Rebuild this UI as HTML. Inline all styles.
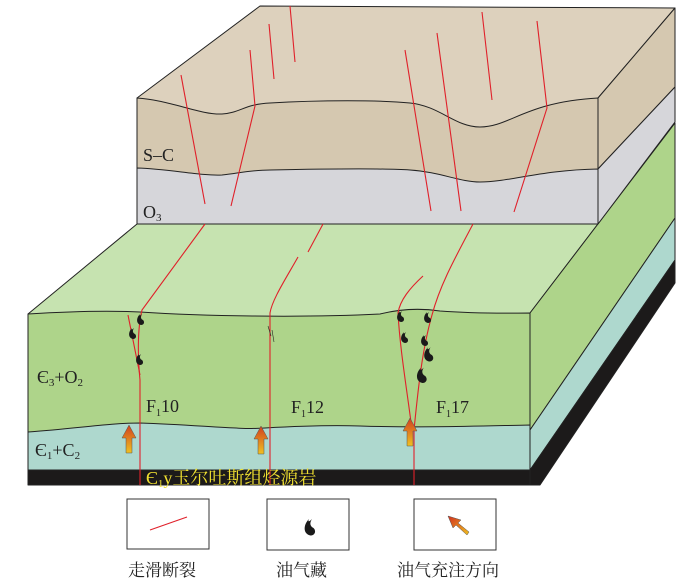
<!DOCTYPE html>
<html><head><meta charset="utf-8"><style>
html,body{margin:0;padding:0;background:#fff;}
svg{display:block;}
</style></head><body>
<svg width="700" height="584" viewBox="0 0 700 584" xmlns="http://www.w3.org/2000/svg">
<defs>
<linearGradient id="ag" x1="0" y1="1" x2="0" y2="0">
<stop offset="0" stop-color="#f0c020"/><stop offset="1" stop-color="#d04020"/></linearGradient>
<linearGradient id="ag2" x1="1" y1="1" x2="0" y2="0">
<stop offset="0" stop-color="#f0c020"/><stop offset="1" stop-color="#d03020"/></linearGradient>
<g id="oil"><path d="M0,-6 C-4,-2 -4,4 1,5 C4,5 5,2 3,0 C1,-1 0,-3 2,-6 C0,-4 -1,-4 0,-6 Z" fill="#1a1a1a"/></g>
</defs>
<g stroke="#222" stroke-width="1" stroke-linejoin="round">
<polygon points="28,314 137,224 598,224 530,313 530,330 28,330" fill="#c6e3b0"/>
<path d="M28,314 C60,312 100,310 140,312 C200,316 300,318 380,314 C400,309 420,308 440,311 C480,314 510,313 530,313 L530,430 L28,432 Z" fill="#aed48a"/>
<path d="M28,432 C80,428 110,423 140,423 C200,425 240,430 265,428 C300,426 330,425 360,426 C420,428 480,426 530,425 L530,470 L28,470 Z" fill="#aed8ce"/>
<rect x="28" y="470" width="502" height="15" fill="#1c1a1a"/>
<polygon points="530,313 675,123 675,218 530,430" fill="#aed48a"/>
<polygon points="530,430 675,218 675,260 530,470" fill="#aed8ce"/>
<polygon points="530,470 675,260 675,283 540,485 530,485" fill="#1c1a1a"/>
<polygon points="137,98 260,6 675,8 598,98 598,135 137,135" fill="#ddd1bd"/>
<path d="M137,98 C170,100 200,115 222,114 C240,113 245,104 270,103 C320,100 380,100 410,103 C440,106 455,127 480,127 C510,127 525,102 598,98 L598,195 L137,195 Z" fill="#d5c8b0"/>
<path d="M137,168 C170,169 200,176 222,175 C240,173 250,170 270,170 C320,169 380,168 410,170 C440,172 460,182 480,182 C510,182 540,170 598,169 L598,224 L137,224 Z" fill="#d6d6da"/>
<polygon points="598,98 675,8 675,87 598,169" fill="#d5c8b0"/>
<polygon points="598,169 675,87 675,122 598,224" fill="#d6d6da"/>
</g>
<g stroke="#e0202a" stroke-width="1.1" fill="none">
<line x1="290" y1="6" x2="295" y2="62"/>
<line x1="269" y1="24" x2="274" y2="79"/>
<line x1="181" y1="75" x2="205" y2="204"/>
<polyline points="250,50 255,106 231,206"/>
<line x1="405" y1="50" x2="431" y2="211"/>
<line x1="437" y1="33" x2="461" y2="211"/>
<line x1="482" y1="12" x2="492" y2="100"/>
<polyline points="537,21 547,108 514,212"/>
<path d="M205,224 L142,310 C137,330 138,360 140,380 L140,485"/>
<path d="M323,224 L308,252 M298,257 C285,280 272,300 270,313 L270,485"/>
<path d="M473,224 C455,258 440,285 432,315 C422,350 418,390 414,430 L414,485"/>
<path d="M423,276 C410,288 400,300 398,313 C400,350 407,390 412,430"/>
<path d="M128,315 L140,375"/>
<line x1="150" y1="530" x2="187" y2="517"/>
</g>
<g stroke="#222" stroke-width="0.6" fill="none"><path d="M268,326 l3,10 M272,330 l2,12"/></g>
<g>
<use href="#oil" transform="translate(140,320)"/>
<use href="#oil" transform="translate(132,334)"/>
<use href="#oil" transform="translate(139,360)"/>
<use href="#oil" transform="translate(400,317)"/>
<use href="#oil" transform="translate(404,338)"/>
<use href="#oil" transform="translate(427,318)"/>
<use href="#oil" transform="translate(424,341)"/>
<use href="#oil" transform="translate(428,355) scale(1.3)"/>
<use href="#oil" transform="translate(421,376) scale(1.4)"/>
<use href="#oil" transform="translate(309,528) scale(1.5)"/>
</g>
<g stroke="#555" stroke-width="0.5">
<path d="M126,453 L126,438 L122,438 L129,425 L136,438 L132,438 L132,453 Z" fill="url(#ag)"/>
<path d="M258,454 L258,439 L254,439 L261,426 L268,439 L264,439 L264,454 Z" fill="url(#ag)"/>
<path d="M407,446 L407,431 L403,431 L410,418 L417,431 L413,431 L413,446 Z" fill="url(#ag)"/>
<path d="M467,535 L456,525 L453,528 L448,516 L461,520 L458,523 L469,532 Z" fill="url(#ag2)"/>
</g>
<g font-family="'Liberation Serif','Noto Serif CJK SC',serif" fill="#222">
<text x="143" y="161" font-size="18">S–C</text>
<text x="143" y="218" font-size="18">O<tspan font-size="11" dy="3">3</tspan></text>
<text x="37" y="383" font-size="18">Є<tspan font-size="11" dy="3">3</tspan><tspan dy="-3">+O</tspan><tspan font-size="11" dy="3">2</tspan></text>
<text x="35" y="456" font-size="18">Є<tspan font-size="11" dy="3">1</tspan><tspan dy="-3">+C</tspan><tspan font-size="11" dy="3">2</tspan></text>
<text x="146" y="412" font-size="18">F<tspan font-size="10" dy="4">1</tspan><tspan dy="-4">10</tspan></text>
<text x="291" y="413" font-size="18">F<tspan font-size="10" dy="4">1</tspan><tspan dy="-4">12</tspan></text>
<text x="436" y="413" font-size="18">F<tspan font-size="10" dy="4">1</tspan><tspan dy="-4">17</tspan></text>
<text x="146" y="484" font-size="18" fill="#f0e030">Є<tspan font-size="11" dy="3">1</tspan><tspan dy="-3">y玉尔吐斯组烃源岩</tspan></text>
<text x="128" y="576" font-size="17">走滑断裂</text>
<text x="276" y="576" font-size="17">油气藏</text>
<text x="397" y="576" font-size="17">油气充注方向</text>
</g>
<g fill="none" stroke="#333" stroke-width="1">
<rect x="127" y="499" width="82" height="50"/>
<rect x="267" y="499" width="82" height="51"/>
<rect x="414" y="499" width="82" height="51"/>
</g>
</svg>
</body></html>
